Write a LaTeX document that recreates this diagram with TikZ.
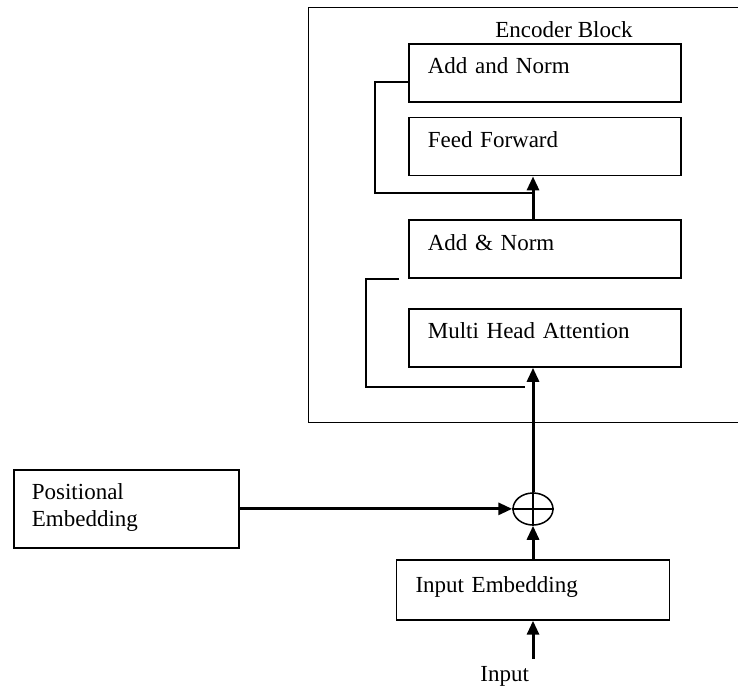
\documentclass[tikz,border=0pt]{standalone}
\usepackage{fontspec}
\setmainfont{Liberation Serif}
\usetikzlibrary{arrows.meta,positioning,shapes.geometric}

\begin{document}
\begin{tikzpicture}[
  x=0.5pt, y=-0.5pt,
  font=\fontsize{11.5}{13.5}\selectfont,
  blk/.style={draw,line width=0.85pt,text width=117pt,inner xsep=9.5pt,inner ysep=0pt,
              text height=15pt,text depth=14pt,align=left},
  arr/.style={-{Triangle[length=7pt,width=6pt]},line width=1.5pt},
  res/.style={line width=1pt}
]
  \useasboundingbox (0,0) rectangle (738,686);
  \node[draw,line width=0.7pt,minimum width=216pt,minimum height=207.5pt,anchor=north west,inner sep=0pt] (encoder) at (308,7) {};
  \node[anchor=base west,inner sep=0pt] (title) at (495,37) {Encoder Block};

  \node[blk,anchor=north west] (addnorm2) at (408,43) {Add and Norm};
  \node[blk,below=7pt of addnorm2] (feed) {Feed Forward};
  \node[blk,below=21.5pt of feed] (addnorm1) {Add \& Norm};
  \node[blk,below=14.5pt of addnorm1] (mha) {Multi Head Attention};

  \node[draw,ellipse,line width=0.75pt,minimum width=20pt,minimum height=16pt,inner sep=0pt] (sum) at (533,509) {};
  \node[blk,anchor=north,text width=117.5pt,text height=16.5pt,text depth=13.5pt] (inemb) at (533,559) {Input Embedding};
  \node[blk,anchor=north west,text width=94.5pt,inner xsep=9pt,text depth=24pt] (posemb) at (13,469) {Positional\\Embedding};
  \node[anchor=base east] (input) at (536,681) {Input};

  \coordinate (ffjoin) at (533,193);
  \coordinate (mhajoin) at (525,387);

  \draw[line width=0.75pt] (sum.north) -- (sum.south) (sum.west) -- (sum.east);
  \draw[arr] (input.north -| inemb.south) -- (inemb.south);
  \draw[arr] (inemb.north -| sum) -- (sum.south);
  \draw[arr] (posemb.east) -- (posemb.east -| sum.west);
  \draw[arr] (sum.north) -- (sum |- mha.south);
  \draw[arr] (sum |- addnorm1.north) -- (sum |- feed.south);
  \draw[res] ([xshift=-4.5pt]addnorm1.south west) -- ++(-33,0) |- (mhajoin);
  \draw[res] ([yshift=-4.5pt]addnorm2.west) -- ++(-33,0) |- (ffjoin);
\end{tikzpicture}
\end{document}
